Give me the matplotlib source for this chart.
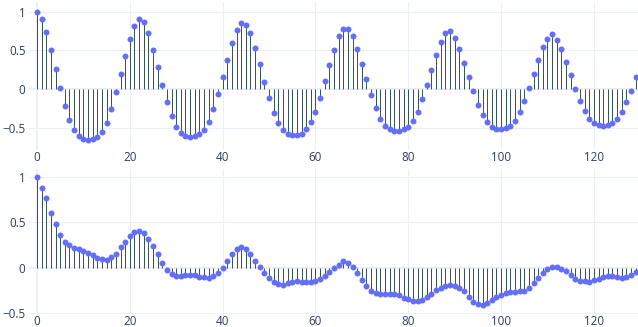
import numpy as np
import matplotlib
matplotlib.use("Agg")
import matplotlib.pyplot as plt

plt.rcParams['font.family'] = ['Open Sans', 'DejaVu Sans']

# lags 0..129
lags = np.arange(130)

# autocorrelation (top panel)
acf = [
    1.0, 0.91, 0.74, 0.51, 0.26, 0.01, -0.22, -0.40, -0.53, -0.61,
    -0.645, -0.655, -0.645, -0.62, -0.55, -0.44, -0.26, -0.04, 0.20, 0.43,
    0.65, 0.82, 0.905, 0.86, 0.72, 0.51, 0.28, 0.05, -0.17, -0.35,
    -0.49, -0.57, -0.61, -0.615, -0.61, -0.585, -0.525, -0.42, -0.26, -0.06,
    0.16, 0.38, 0.59, 0.76, 0.855, 0.83, 0.72, 0.525, 0.32, 0.09,
    -0.12, -0.31, -0.44, -0.525, -0.577, -0.594, -0.59, -0.577, -0.52, -0.43,
    -0.29, -0.11, 0.10, 0.31, 0.50, 0.68, 0.78, 0.78, 0.69, 0.52,
    0.33, 0.13, -0.07, -0.245, -0.38, -0.47, -0.52, -0.54, -0.54, -0.52,
    -0.49, -0.415, -0.29, -0.13, 0.05, 0.25, 0.44, 0.61, 0.72, 0.745,
    0.66, 0.52, 0.34, 0.155, -0.03, -0.205, -0.34, -0.43, -0.49, -0.51,
    -0.51, -0.50, -0.47, -0.41, -0.30, -0.16, 0.01, 0.20, 0.37, 0.54,
    0.65, 0.705, 0.64, 0.52, 0.35, 0.18, 0.005, -0.154, -0.286, -0.385,
    -0.436, -0.465, -0.47, -0.465, -0.44, -0.39, -0.30, -0.17, -0.02, 0.154,
]

# partial autocorrelation (bottom panel)
pacf = [
    1.0, 0.884, 0.768, 0.60, 0.478, 0.366, 0.29, 0.246, 0.214, 0.203,
    0.185, 0.163, 0.138, 0.109, 0.101, 0.091, 0.12, 0.156, 0.232, 0.286,
    0.348, 0.391, 0.409, 0.38, 0.319, 0.239, 0.149, 0.051, -0.025, -0.069,
    -0.09, -0.094, -0.083, -0.083, -0.083, -0.10, -0.10, -0.112, -0.094, -0.062,
    0.0, 0.072, 0.149, 0.203, 0.228, 0.203, 0.149, 0.076, 0.011, -0.062,
    -0.116, -0.16, -0.181, -0.188, -0.167, -0.156, -0.149, -0.152, -0.156, -0.152,
    -0.141, -0.127, -0.094, -0.047, 0.0, 0.036, 0.072, 0.051, 0.007, -0.062,
    -0.138, -0.203, -0.257, -0.275, -0.29, -0.29, -0.293, -0.293, -0.304, -0.33,
    -0.344, -0.366, -0.366, -0.357, -0.326, -0.29, -0.25, -0.221, -0.196, -0.188,
    -0.199, -0.228, -0.261, -0.326, -0.373, -0.399, -0.406, -0.391, -0.359, -0.326,
    -0.297, -0.275, -0.272, -0.272, -0.261, -0.254, -0.221, -0.167, -0.116, -0.062,
    -0.011, 0.011, 0.004, -0.011, -0.04, -0.084, -0.127, -0.141, -0.149, -0.152,
    -0.138, -0.12, -0.098, -0.091, -0.091, -0.105, -0.113, -0.102, -0.084, -0.051,
]

xticks = [0, 20, 40, 60, 80, 100, 120]
yticks = [-0.5, 0, 0.5, 1]
ytick_labels = ['\u22120.5', '0', '0.5', '1']

grid_c = '#EBF0F8'
text_c = '#2a3f5f'
stem_c = '#3a5652'
dot_c = '#636EFA'

fig = plt.figure(figsize=(6.38, 3.27), dpi=100)
ax1 = fig.add_axes([29/638, 1 - 150/327, 609/638, 148/327])
ax2 = fig.add_axes([29/638, 1 - 314/327, 609/638, 145/327])


def stem_panel(ax, y, ylim):
    ax.set_xlim(-1.72, 129.5)
    ax.set_ylim(*ylim)
    for s in ax.spines.values():
        s.set_visible(False)
    ax.set_xticks(xticks)
    ax.set_yticks(yticks)
    ax.set_yticklabels(ytick_labels)
    ax.tick_params(length=0, labelsize=8.4, labelcolor=text_c)
    ax.tick_params(axis='y', pad=2.5)
    ax.tick_params(axis='x', pad=0.5)
    for t in xticks:
        ax.axvline(t, color=grid_c, lw=1.4 if t == 0 else 0.8, zorder=0)
    for t in yticks:
        ax.axhline(t, color=grid_c, lw=1.4 if t == 0 else 0.8, zorder=0)
    ax.vlines(lags, 0, y, colors=stem_c, lw=0.72, zorder=2)
    ax.plot(lags, y, 'o', color=dot_c, ms=4.3, mew=0, zorder=3)


stem_panel(ax1, acf, (-0.786, 1.124))
stem_panel(ax2, pacf, (-0.51, 1.09))

fig.savefig('out.png', dpi=100)
